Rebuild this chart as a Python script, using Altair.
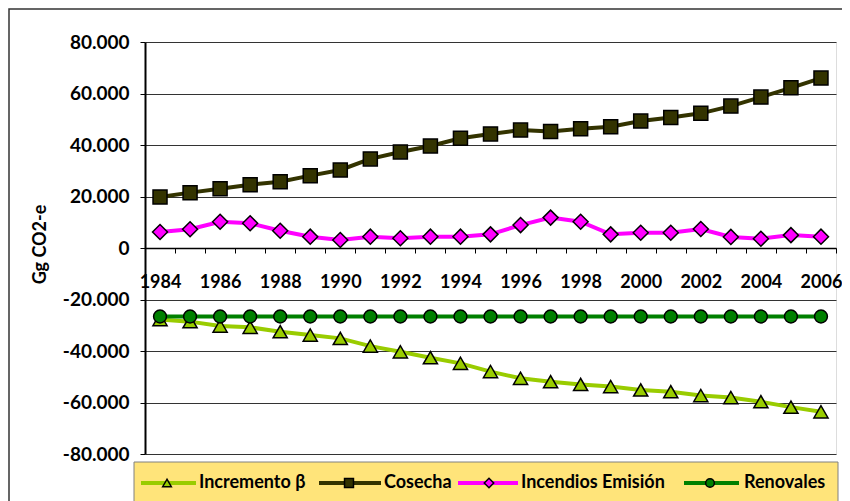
import altair as alt
import pandas as pd

years = list(range(1984, 2007))
series_names = ["Incremento β", "Cosecha", "Incendios Emisión", "Renovales"]

incremento = [-27800, -28600, -30300, -30800, -32500, -33800, -35100, -38100, -40300, -42600, -44800, -48000,
              -50600, -51900, -53000, -53800, -55100, -55800, -57300, -58100, -59700, -61800, -63600]
cosecha = [19800, 21500, 23000, 24600, 25700, 28100, 30300, 34600, 37300, 39600, 42600, 44300,
           45800, 45200, 46300, 47100, 49300, 50700, 52300, 55100, 58600, 62200, 66000]
incendios = [6200, 7300, 10200, 9600, 6700, 4400, 3100, 4400, 3800, 4400, 4400, 5300,
             8900, 11800, 10200, 5300, 5900, 5900, 7400, 4300, 3600, 5000, 4400]
renovales = [-26600, -26600, -26600, -26600, -26600, -26600, -26600, -26600, -26600, -26600, -26600, -26600,
             -26600, -26600, -26600, -26600, -26600, -26600, -26600, -26600, -26600, -26600, -26600]

y_ticks = [-80000, -60000, -40000, -20000, 0, 20000, 40000, 60000, 80000]

series_values = [incremento, cosecha, incendios, renovales]
colors = ["#99CC00", "#333300", "#FF00FF", "#008000"]
shapes = ["triangle-up", "square", "diamond", "circle"]
sizes = [200, 196, 225, 165]

W, H = 691, 412
FONT = "Lato"

x_enc = alt.X(
    "year:O",
    bandPosition=0.5,
    scale=alt.Scale(type="band", domain=years, paddingInner=0, paddingOuter=0),
    axis=alt.Axis(
        orient="bottom", offset=-H / 2, tickBand="extent", title=None,
        labelExpr="datum.value % 2 == 0 ? datum.label : ''",
        labelAngle=0, labelOverlap=False, labelBound=False, labelFlush=False,
        labelFont=FONT, labelFontSize=18, labelFontWeight="bold", labelColor="black",
        labelPadding=20, tickSize=5, tickColor="black", tickWidth=1,
        domainColor="black", domainWidth=1.5, grid=False,
    ),
)
y_enc = alt.Y(
    "value:Q",
    scale=alt.Scale(domain=[-80000, 80000], nice=False, zero=False),
    axis=alt.Axis(
        values=y_ticks, title="Gg CO2-e",
        labelExpr="(datum.value < 0 ? '-' : '') + replace(format(abs(datum.value), ','), ',', '.')",
        labelFont=FONT, labelFontSize=19, labelFontWeight="bold", labelColor="black",
        labelPadding=11, tickSize=5, tickColor="black", domainColor="black", domainWidth=2,
        grid=True, gridColor="#333333", gridWidth=1,
        titleFont=FONT, titleFontSize=18, titleFontWeight="bold", titleColor="black",
        titleX=-105, titleY=H / 2 - 4, titleAngle=270, titleBaseline="middle", titleAlign="center",
    ),
)

one = pd.DataFrame({"k": [0]})

# outer frame
frame = alt.Chart(one).mark_rect(fill="white", fillOpacity=0, stroke="#333333", strokeWidth=1.5).encode(
    x=alt.value(-136), x2=alt.value(720), y=alt.value(-33), y2=alt.value(600)
)

layers = [frame]
for name, vals, c, sh, sz in zip(series_names, series_values, colors, shapes, sizes):
    d = pd.DataFrame({"year": years, "value": vals, "series": name})
    layers.append(alt.Chart(d).mark_line(color=c, strokeWidth=4).encode(x=x_enc, y=y_enc))
    layers.append(
        alt.Chart(d).mark_point(filled=True, fill=c, stroke="black", strokeWidth=1.5, opacity=1,
                                shape=sh, size=sz).encode(x=x_enc, y=y_enc)
    )

# legend
LY = 441
legend_box = alt.Chart(one).mark_rect(fill="#FFE47A", stroke="#808080", strokeWidth=1).encode(
    x=alt.value(-11), x2=alt.value(693), y=alt.value(420), y2=alt.value(520)
)
layers.append(legend_box)
leg_line = [(-4, 51), (174, 236), (313, 373), (539, 594)]
leg_mark = [22, 204, 344, 565]
leg_text = [54, 239, 376, 599]
leg_sizes = [75, 80, 90, 75]
for name, c, sh, (l1, l2), m, t, ls in zip(series_names, colors, shapes, leg_line, leg_mark, leg_text, leg_sizes):
    ld = pd.DataFrame({"series": [name]})
    layers.append(alt.Chart(ld).mark_rule(color=c, strokeWidth=4).encode(
        x=alt.value(l1), x2=alt.value(l2), y=alt.value(LY)))
    layers.append(alt.Chart(ld).mark_point(filled=True, fill=c, stroke="black", strokeWidth=1.5,
                                           opacity=1, shape=sh, size=ls).encode(
        x=alt.value(m), y=alt.value(LY)))
    layers.append(alt.Chart(ld).mark_text(align="left", baseline="middle", font=FONT, fontSize=18,
                                          fontWeight="bold", color="black").encode(
        x=alt.value(t), y=alt.value(LY), text="series:N"))

chart = alt.layer(*layers).properties(
    width=W, height=H,
    autosize=alt.AutoSizeParams(type="none"),
    padding={"left": 137, "top": 34, "right": 6, "bottom": 47},
).configure_view(stroke="black", strokeWidth=2).configure(font=FONT)

chart.save("out.html", embed_options={"renderer": "svg", "actions": False})
